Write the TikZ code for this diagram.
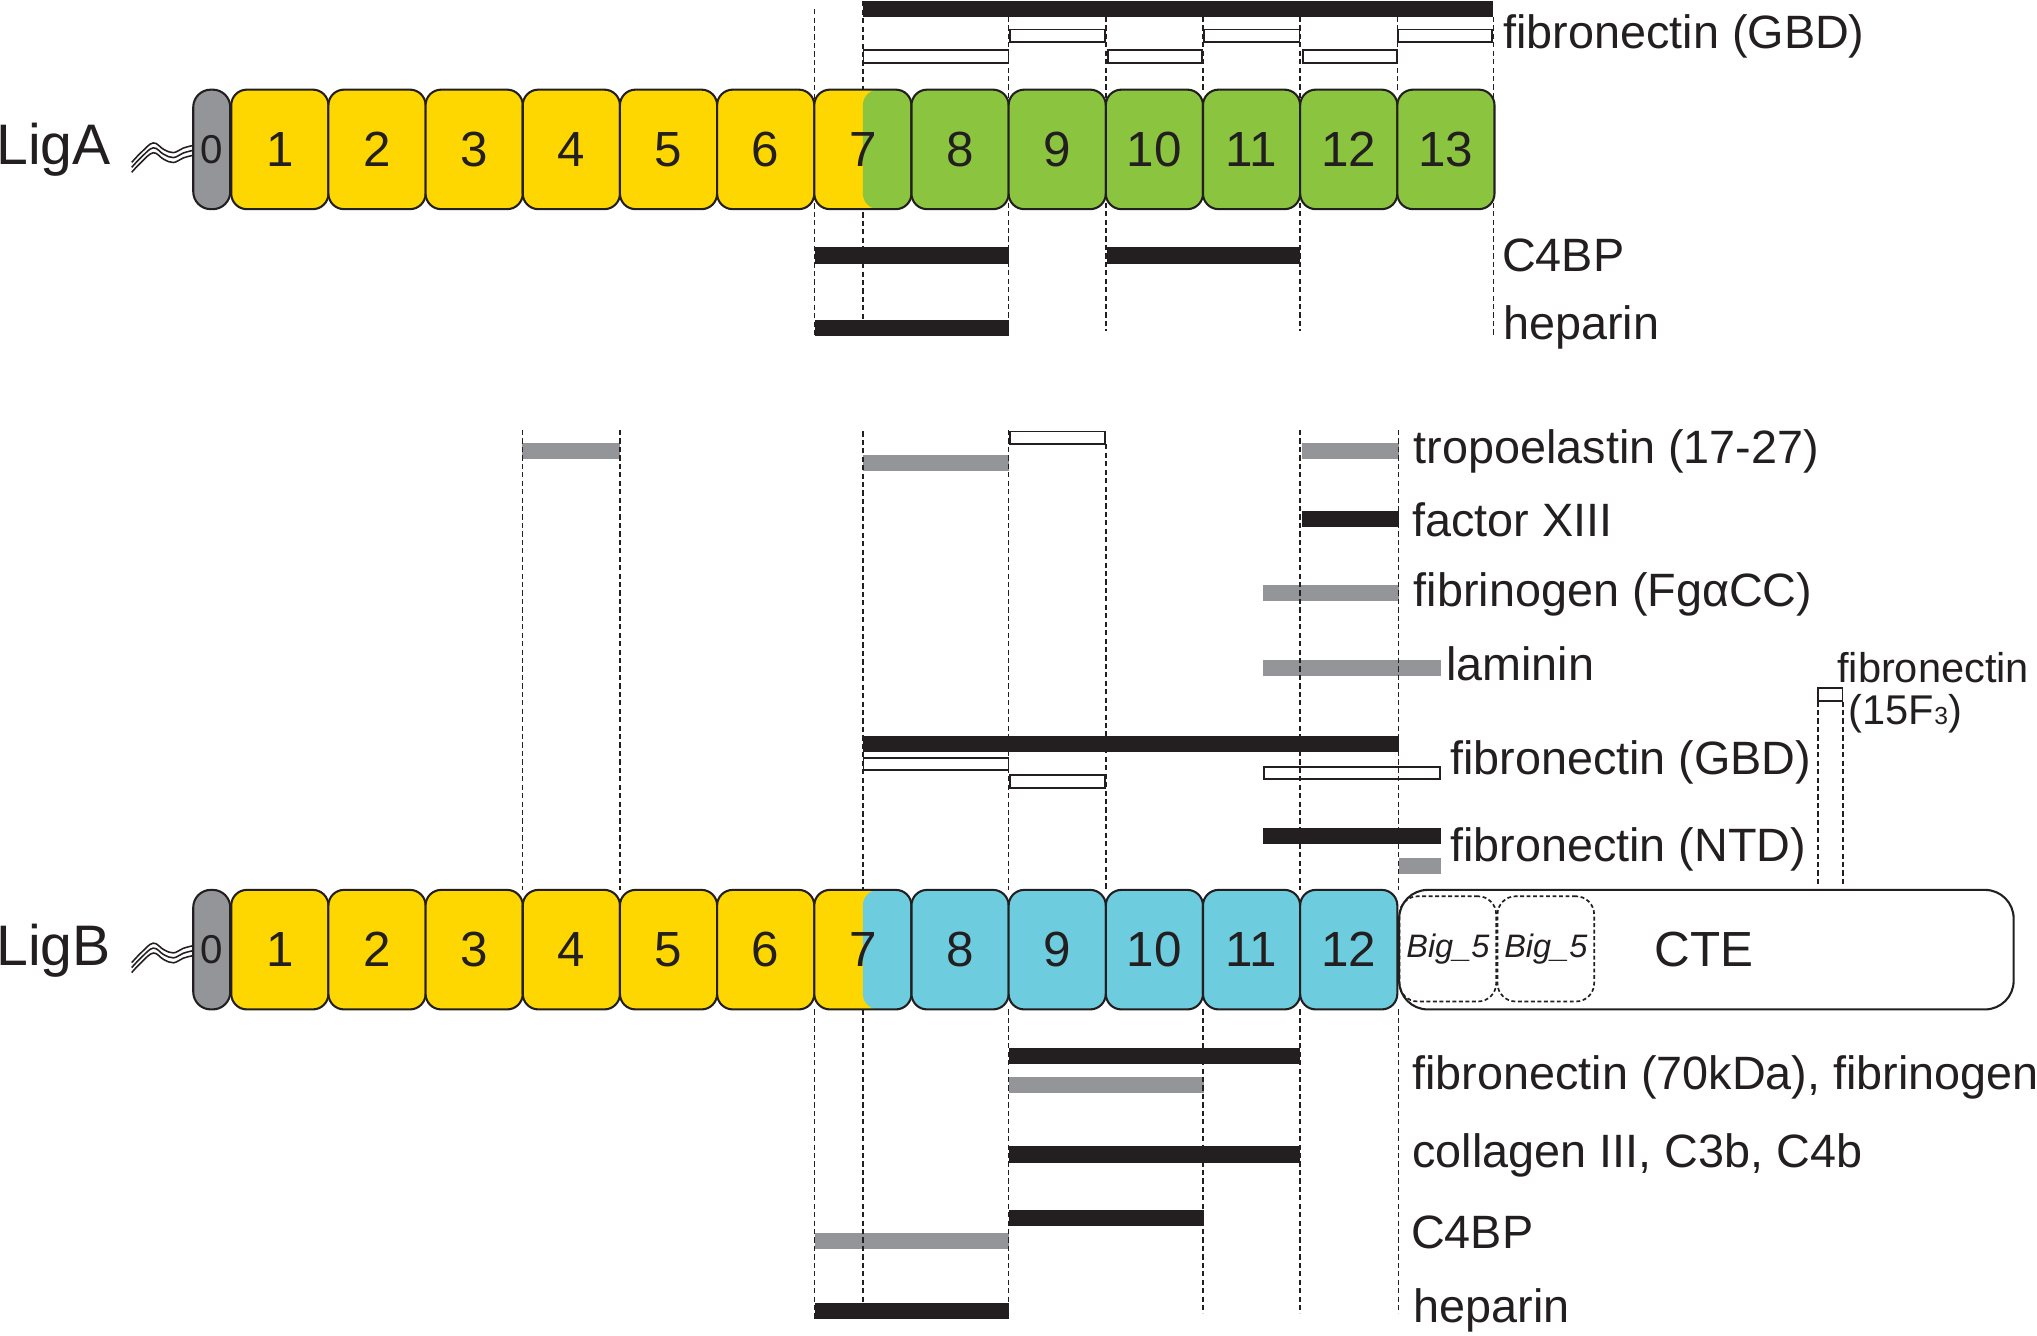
\documentclass[tikz,border=0pt]{standalone}
\usepackage{fontspec}
\setmainfont{Liberation Sans}
\definecolor{dyellow}{RGB}{255,215,0}
\definecolor{dgreen}{RGB}{139,197,63}
\definecolor{dcyan}{RGB}{109,204,221}
\definecolor{dgray}{RGB}{147,149,152}
\definecolor{dblack}{RGB}{35,31,32}
\begin{document}
\begin{tikzpicture}[x=1pt,y=-1pt,
  dom/.style={draw=dblack, line width=1.6pt, rounded corners=12pt, minimum width=74.8pt,
    minimum height=92pt, inner sep=0pt, font=\fontsize{38pt}{38pt}\selectfont, text=dblack},
  dzero/.style={draw=dblack, line width=1.6pt, fill=dgray, rounded corners=13.5pt, minimum width=28.5pt,
    minimum height=92pt, inner sep=0pt, font=\fontsize{31pt}{31pt}\selectfont, text=dblack},
  bigbox/.style={draw=dblack, line width=1.3pt, dash pattern=on 3pt off 2pt, rounded corners=14pt,
    minimum width=74.4pt, minimum height=81pt, inner sep=0pt, font=\itshape\fontsize{25pt}{25pt}\selectfont, text=dblack},
  blackbar/.style={fill=dblack},
  graybar/.style={fill=dgray},
  openbar/.style={draw=dblack, fill=white, line width=1.4pt},
  guide/.style={draw=dblack, line width=1.1pt, dash pattern=on 4pt off 2.5pt},
  wave/.style={draw=dblack, line width=1.2pt},
  lab/.style={anchor=base west, inner sep=0pt, text=dblack, font=\fontsize{36pt}{36pt}\selectfont},
  slab/.style={anchor=base west, inner sep=0pt, text=dblack, font=\fontsize{32pt}{32pt}\selectfont},
  ligname/.style={anchor=base west, inner sep=0pt, text=dblack, font=\fontsize{44pt}{44pt}\selectfont}
]
\useasboundingbox (0,0) rectangle (1568,1028);

% ---------------- LigA bars ----------------
\fill[blackbar] (664,1) rectangle (1149,13);
\draw[openbar] (777.7,22.7) rectangle (850.5,32.3);
\draw[openbar] (926.7,22.7) rectangle (1000.3,32.3);
\draw[openbar] (1076.3,22.7) rectangle (1148.3,32.3);
\draw[openbar] (664.7,38.7) rectangle (776.3,48.3);
\draw[openbar] (852.7,38.7) rectangle (925.3,48.3);
\draw[openbar] (1002.7,38.7) rectangle (1075.3,48.3);
\fill[blackbar] (627,190) rectangle (777,203);
\fill[blackbar] (852,190) rectangle (1001,203);
\fill[blackbar] (627,246) rectangle (777,259);

% ---------------- LigB bars (above) ----------------
\fill[graybar] (402,341) rectangle (477,353.5);
\fill[graybar] (664,350) rectangle (777,362.5);
\draw[openbar] (777.7,332.2) rectangle (850.5,341.8);
\fill[graybar] (1002,341) rectangle (1077,353.5);
\fill[blackbar] (1002,393) rectangle (1077,405.5);
\fill[graybar] (972,450) rectangle (1077,462.5);
\fill[graybar] (972,508) rectangle (1109,520.5);
\draw[openbar] (1399.7,529.7) rectangle (1418.3,539.3);
\fill[blackbar] (664,566.5) rectangle (1077,579);
\draw[openbar] (664.7,583.2) rectangle (776.3,592.8);
\draw[openbar] (777.7,596.7) rectangle (850.5,606.3);
\draw[openbar] (972.7,590.2) rectangle (1108.3,599.8);
\fill[blackbar] (972,637.5) rectangle (1109,650);
\fill[graybar] (1077,660.5) rectangle (1109,673);

% ---------------- LigB bars (below) ----------------
\fill[blackbar] (777,806.5) rectangle (1001,819);
\fill[graybar] (777,829) rectangle (927,841.5);
\fill[blackbar] (777,882.5) rectangle (1001,895);
\fill[blackbar] (777,931.5) rectangle (927,944);
\fill[graybar] (627,949) rectangle (777,961.5);
\fill[blackbar] (627,1003) rectangle (777,1015.5);

% ---------------- guides LigA ----------------
\draw[guide] (627,7) -- (627,259);
\draw[guide] (664.2,1) -- (664.2,246);
\draw[guide] (776.4,13) -- (776.4,259);
\draw[guide] (851.2,13) -- (851.2,255);
\draw[guide] (926,13) -- (926,69);
\draw[guide] (1000.8,13) -- (1000.8,255);
\draw[guide] (1075.6,13) -- (1075.6,69);
\draw[guide] (1149.6,13) -- (1149.6,258);

% ---------------- guides LigB ----------------
\draw[guide] (402.4,331) -- (402.4,685);
\draw[guide] (477.2,331) -- (477.2,685);
\draw[guide] (664.2,332) -- (664.2,685);
\draw[guide] (776.4,331) -- (776.4,685);
\draw[guide] (851.2,342) -- (851.2,685);
\draw[guide] (1000.8,331) -- (1000.8,685);
\draw[guide] (1076.6,331) -- (1076.6,685);
\draw[guide] (1399.5,540) -- (1399.5,682);
\draw[guide] (1418.5,540) -- (1418.5,682);
\draw[guide] (627,777) -- (627,1015);
\draw[guide] (664.2,777) -- (664.2,1003);
\draw[guide] (776.4,777) -- (776.4,1015);
\draw[guide] (926,777) -- (926,1011);
\draw[guide] (1000.8,777) -- (1000.8,1011);
\draw[guide] (1076.6,777) -- (1076.6,1011);

% ---------------- LigA domains ----------------
\foreach \i in {0,1,2}
  \draw[wave, shift={(0,115+3.8*\i)}] plot[smooth, tension=0.65] coordinates {(101.4,10) (109,2) (118,-5) (126,0) (133.5,2.5) (141,-1) (148.5,-3)};
\node[dzero] (a0) at (163,115) {0};
\foreach \k in {1,...,6}
  \node[dom, fill=dyellow] (a\k) at ({178+74.8*(\k-0.5)},115) {\k};
\node[dom, fill=dyellow, path picture={\fill[dgreen] (path picture bounding box.north) rectangle (path picture bounding box.south east);}] (a7) at (664.2,115) {7};
\foreach \k in {8,...,13}
  \node[dom, fill=dgreen] (a\k) at ({178+74.8*(\k-0.5)},115) {\k};

% ---------------- LigB domains ----------------
\foreach \i in {0,1,2}
  \draw[wave, shift={(0,731+3.8*\i)}] plot[smooth, tension=0.65] coordinates {(101.4,10) (109,2) (118,-5) (126,0) (133.5,2.5) (141,-1) (148.5,-3)};
\node[dzero] (b0) at (163,731) {0};
\foreach \k in {1,...,6}
  \node[dom, fill=dyellow] (b\k) at ({178+74.8*(\k-0.5)},731) {\k};
\node[dom, fill=dyellow, path picture={\fill[dcyan] (path picture bounding box.north) rectangle (path picture bounding box.south east);}] (b7) at (664.2,731) {7};
\foreach \k in {8,...,12}
  \node[dom, fill=dcyan] (b\k) at ({178+74.8*(\k-0.5)},731) {\k};
\node[draw=dblack, line width=1.6pt, fill=white, rounded corners=22pt, minimum width=473pt, minimum height=92pt, inner sep=0pt] (cte) at (1313.5,731) {};
\node[bigbox] (big1) at (1114.5,730.4) {Big\_5};
\node[bigbox] (big2) at (1189.9,730.4) {Big\_5};
\node[inner sep=0pt, text=dblack, font=\fontsize{38pt}{38pt}\selectfont] (ctel) at (1311.5,731) {CTE};

% ---------------- names ----------------
\node[ligname] (liga) at (-3,127) {LigA};
\node[ligname] (ligb) at (-3,743) {LigB};

% ---------------- labels ----------------
\node[lab] (la1) at (1157,37) {fibronectin (GBD)};
\node[lab] (la2) at (1156,209) {C4BP};
\node[lab] (la3) at (1157,261) {heparin};

\node[lab] (lb1) at (1088,357) {tropoelastin (17-27)};
\node[lab] (lb2) at (1087,413) {factor XIII};
\node[lab] (lb3) at (1088,467) {fibrinogen (FgαCC)};
\node[lab] (lb4) at (1113,524) {laminin};
\node[slab] (lb5) at (1414,525.5) {fibronectin};
\node[slab] (lb6) at (1423,558) {(15F{\fontsize{19pt}{19pt}\selectfont 3})};
\node[lab] (lb7) at (1116,596) {fibronectin (GBD)};
\node[lab] (lb8) at (1116,663.5) {fibronectin (NTD)};
\node[lab] (lb9) at (1087,839) {fibronectin (70kDa), fibrinogen};
\node[lab] (lb10) at (1087,899) {collagen III, C3b, C4b};
\node[lab] (lb11) at (1086,961) {C4BP};
\node[lab] (lb12) at (1088,1018) {heparin};
\end{tikzpicture}
\end{document}
